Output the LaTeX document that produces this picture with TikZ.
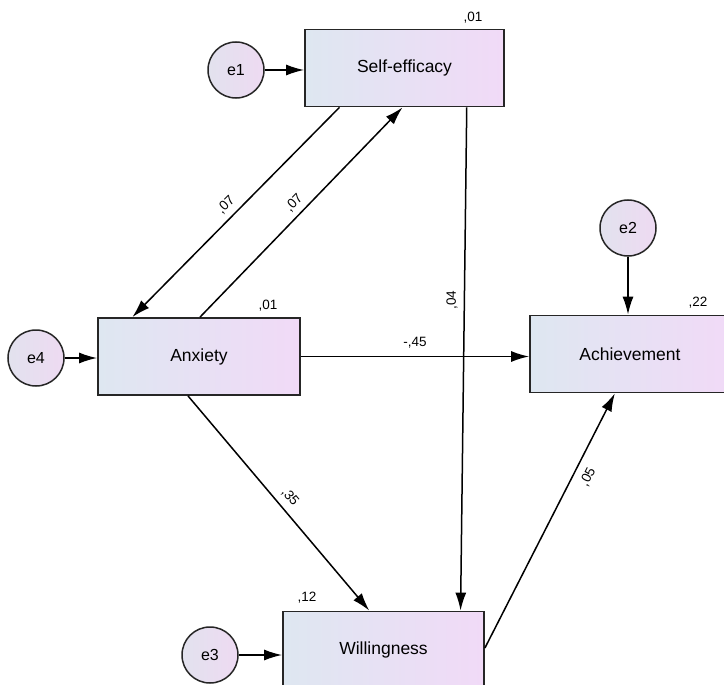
\documentclass[tikz,border=0pt]{standalone}
\usepackage{fontspec}
\setmainfont{Liberation Sans}
\usetikzlibrary{arrows.meta,calc}
\definecolor{boxL}{RGB}{222,231,241}
\definecolor{boxR}{RGB}{241,218,247}
\definecolor{cirL}{RGB}{226,226,238}
\definecolor{cirR}{RGB}{238,218,242}
\begin{document}
\begin{tikzpicture}[x=1pt,y=-1pt,
  var/.style={draw=black!85,line width=1.8pt,shading=axis,left color=boxL,right color=boxR,shading angle=90,
    minimum width=#1,minimum height=77pt,inner sep=0pt,font=\fontsize{17.5}{20}\selectfont},
  err/.style={circle,draw=black!85,line width=1.5pt,left color=cirL,right color=cirR,
    minimum size=56pt,inner sep=0pt,font=\fontsize{16}{18}\selectfont},
  path/.style={line width=1.5pt,-{Latex[length=18pt,width=11pt]}},
  lbl/.style={font=\fontsize{13.5}{15}\selectfont,inner sep=0pt}]
\clip (0,0) rectangle (724,685);
\fill[white] (0,0) rectangle (724,685);
% observed variables
\node[var=199pt] (self) at (404.5,68) {Self-efficacy};
\node[var=202pt] (anx) at (199,356.5) {Anxiety};
\node[var=200pt] (ach) at (630,354) {Achievement};
\node[var=201pt] (will) at (383.5,650) {Willingness};
% errors
\node[err] (e1) at (236,70) {e1};
\node[err] (e4) at (36,358) {e4};
\node[err] (e2) at (628,228) {e2};
\node[err] (e3) at (210,655) {e3};
% squared multiple correlations
\node[lbl] (r1) at (473,18) {,01};
\node[lbl] (r4) at (268,306) {,01};
\node[lbl] (r2) at (698,303) {,22};
\node[lbl] (r3) at (307,598) {,12};
% error paths
\draw[path] (e1.east) -- (e1.east -| self.west);
\draw[path] (e4.east) -- (e4.east -| anx.west);
\draw[path] (e2.south) -- (e2.south |- ach.north);
\draw[path] (e3.east) -- (e3.east -| will.west);
% structural paths
\draw[path] ($(self.south west)!0.176!(self.south east)$) -- ($(anx.north west)!0.173!(anx.north east)$);
\draw[path] ($(anx.north west)!0.505!(anx.north east)$) -- ($(self.south west)!0.49!(self.south east)$);
\draw[path] ($(self.south west)!0.81!(self.south east)$) -- ($(will.north west)!0.88!(will.north east)$);
\draw[path] (anx.east) -- (anx.east -| ach.west);
\draw[path] ($(anx.south west)!0.446!(anx.south east)$) -- ($(will.north west)!0.43!(will.north east)$);
\draw[path] ($(will.east)+(0,-2)$) -- ($(ach.south west)!0.425!(ach.south east)$);
% coefficients
\node[lbl,rotate=45] (c1) at (226,205) {,07};
\node[lbl,rotate=46] (c2) at (294,203) {,07};
\node[lbl,rotate=90] (c3) at (452,300) {,04};
\node[lbl] (c4) at (415,343) {-,45};
\node[lbl,rotate=-50] (c5) at (290,497) {,35};
\node[lbl,rotate=63] (c6) at (588,477) {,05};
\end{tikzpicture}
\end{document}
